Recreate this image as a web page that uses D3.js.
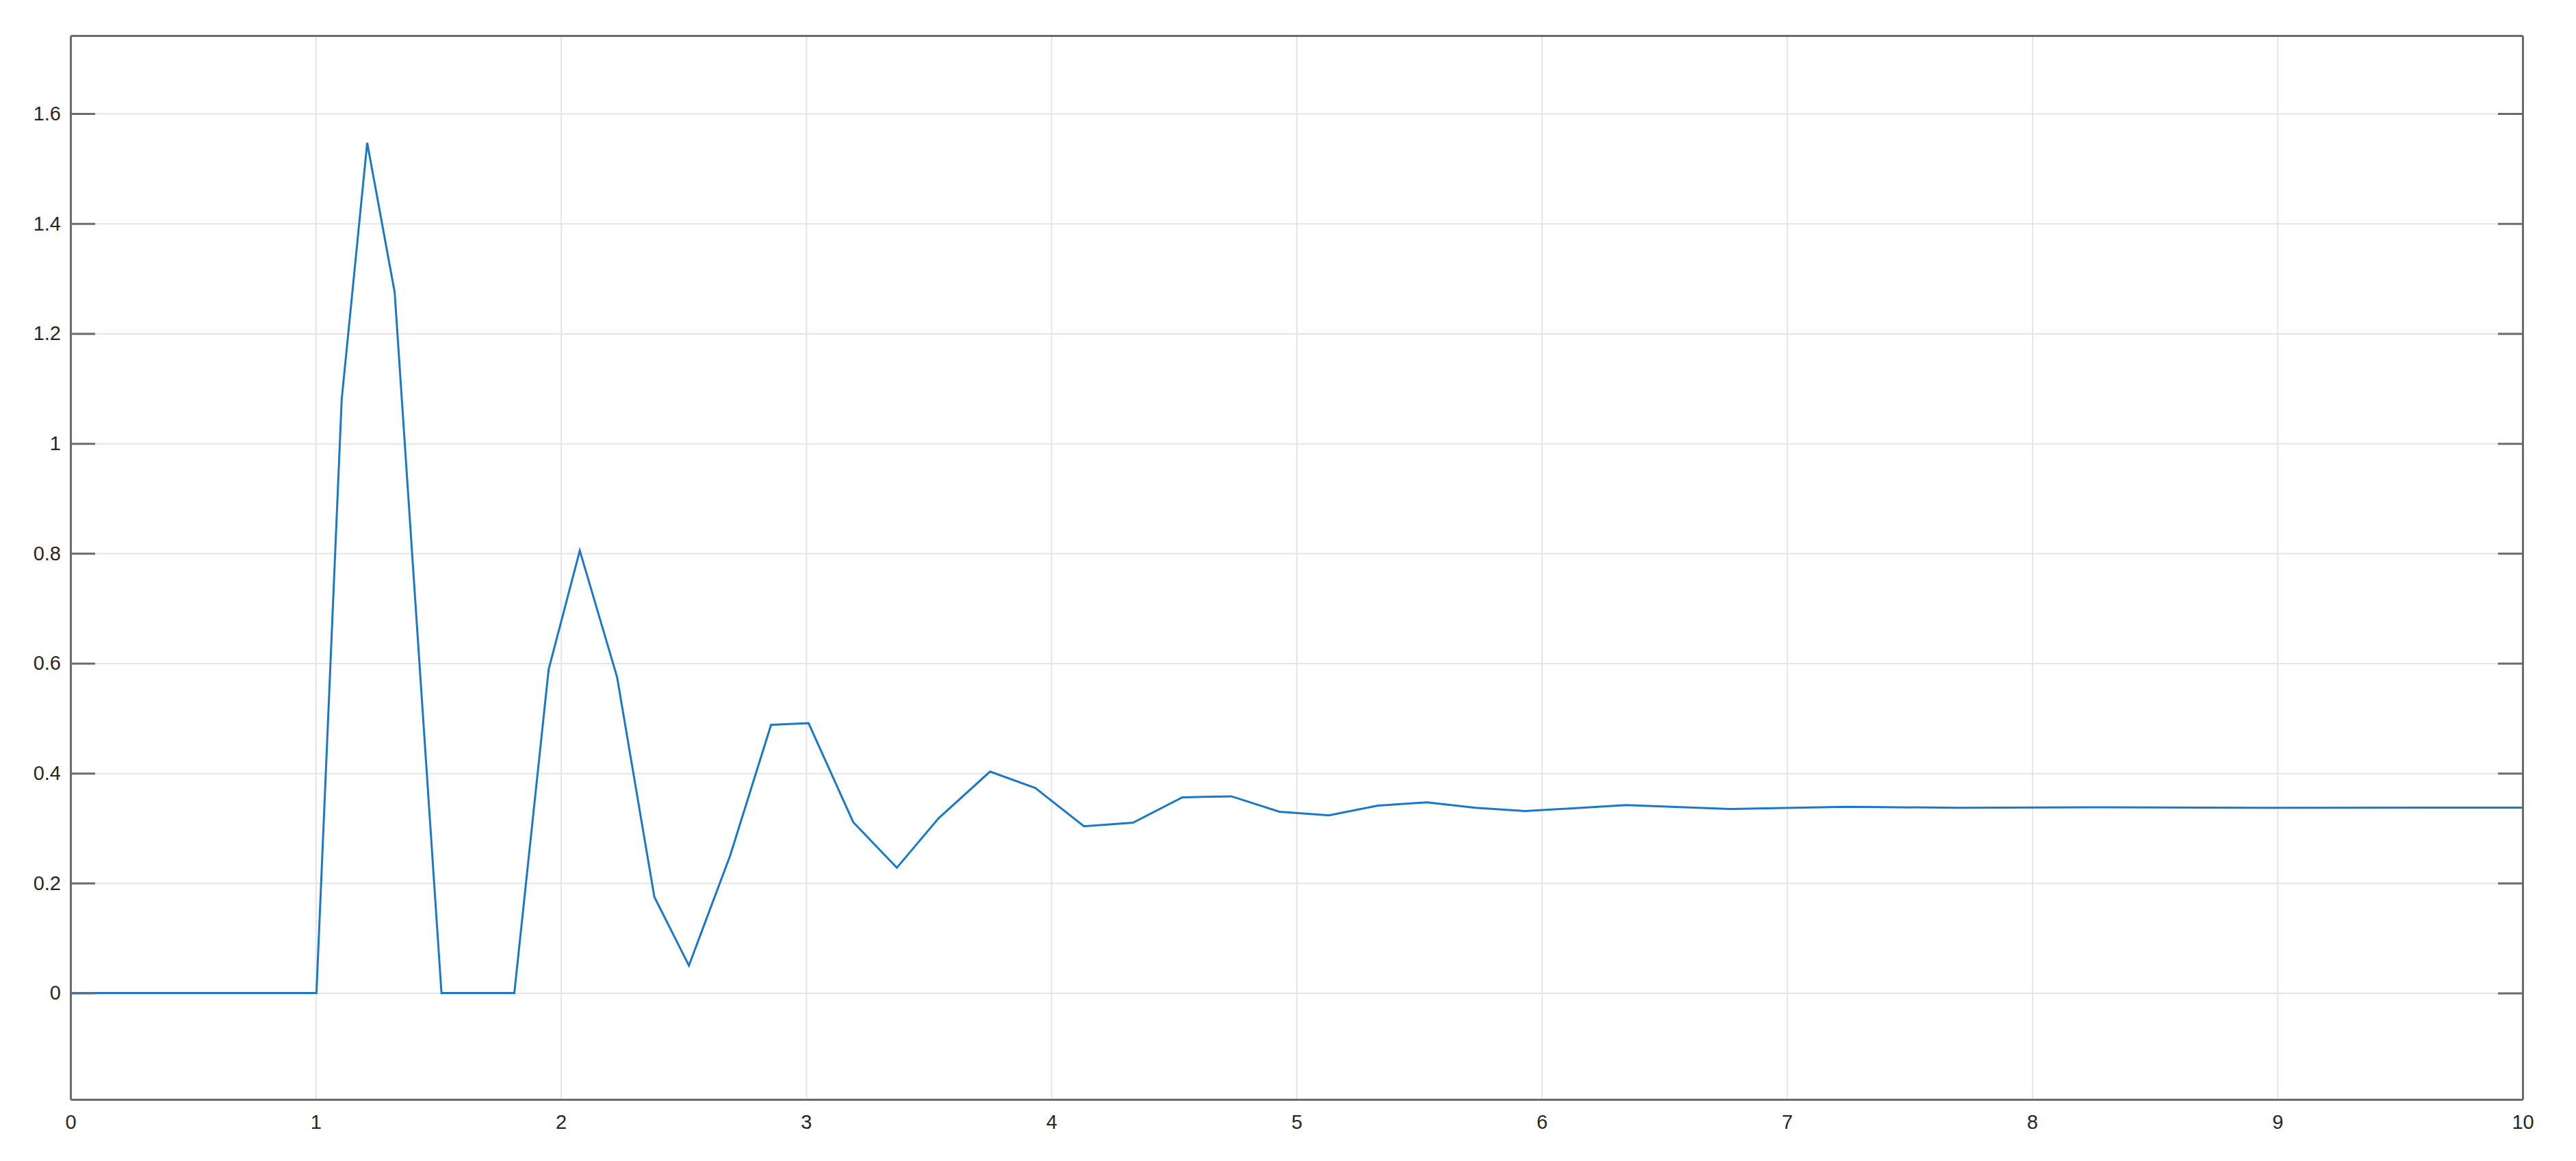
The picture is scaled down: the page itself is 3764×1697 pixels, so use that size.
<!DOCTYPE html>
<html>
<head>
<meta charset="utf-8">
<script src="https://cdn.jsdelivr.net/npm/d3@7"></script>
<style>
  body { margin: 0; background: #ffffff; }
  .tickText { font-family: "Liberation Sans", Arial, sans-serif; font-size: 29px; fill: #262626; }
</style>
</head>
<body>
<div class="chart"></div>
<script>
// time samples and response values
var timeValues = [0, 1.003, 1.106, 1.21, 1.322, 1.513, 1.81, 1.95, 2.077, 2.229, 2.381, 2.522, 2.69, 2.857, 3.01,
    3.192, 3.37, 3.54, 3.75, 3.935, 4.133, 4.333, 4.534, 4.734, 4.93, 5.132, 5.332, 5.531, 5.731, 5.932, 6.344,
    6.768, 7.248, 7.7, 8.3, 9.0, 10];
var responseValues = [0, 0, 1.08, 1.547, 1.275, 0, 0, 0.589, 0.805, 0.575, 0.175, 0.05, 0.25, 0.488, 0.491,
    0.311, 0.228, 0.318, 0.403, 0.373, 0.3035, 0.31, 0.356, 0.358, 0.33, 0.3235, 0.341, 0.347, 0.337, 0.331, 0.342,
    0.335, 0.339, 0.337, 0.338, 0.337, 0.3375];

var xTicks = [0, 1, 2, 3, 4, 5, 6, 7, 8, 9, 10];
var yTicks = [0, 0.2, 0.4, 0.6, 0.8, 1, 1.2, 1.4, 1.6];
var yTickLabels = ["0", "0.2", "0.4", "0.6", "0.8", "1", "1.2", "1.4", "1.6"];
var xDomain = [0, 10];
var yDomain = [-0.1935, 1.742];

var svgWidth = 3764;
var svgHeight = 1697;

var margin = { top: 52, bottom: 90, right: 78, left: 103 };

var width = svgWidth - margin.left - margin.right;
var height = svgHeight - margin.top - margin.bottom;

var svg = d3.select(".chart")
    .append("svg")
    .attr("width", svgWidth)
    .attr("height", svgHeight);

var chartGroup = svg.append("g")
    .attr("transform", `translate(${margin.left}, ${margin.top})`);

// scales
var xScale = d3.scaleLinear().domain(xDomain).range([0, width]);
var yScale = d3.scaleLinear().domain(yDomain).range([height, 0]);

// grid
var gridColor = "#e5e5e5";
chartGroup.append("g")
    .attr("class", "gridX")
    .attr("transform", `translate(0,${height})`)
    .call(d3.axisBottom(xScale).tickValues(xTicks.slice(1, -1)).tickSize(-height).tickFormat(""))
    .call(g => g.select(".domain").remove())
    .call(g => g.selectAll("line").attr("stroke", gridColor).attr("stroke-width", 2));

chartGroup.append("g")
    .attr("class", "gridY")
    .call(d3.axisLeft(yScale).tickValues(yTicks).tickSize(-width).tickFormat(""))
    .call(g => g.select(".domain").remove())
    .call(g => g.selectAll("line").attr("stroke", gridColor).attr("stroke-width", 2));

// response line
var line = d3.line()
    .x((d, i) => xScale(timeValues[i]))
    .y(d => yScale(d));

chartGroup.append("path")
    .datum(responseValues)
    .attr("d", line)
    .attr("fill", "none")
    .attr("stroke", "#1a78c9")
    .attr("stroke-width", 3)
    .attr("stroke-linejoin", "miter");

// axes: x has labels only, y ticks point inward on both sides
var axisColor = "#6b6b6b";
var tickLen = 36;

function styleAxis(g) {
    g.select(".domain").attr("stroke", axisColor).attr("stroke-width", 3);
    g.selectAll(".tick line").attr("stroke", axisColor).attr("stroke-width", 3);
    g.selectAll(".tick text").attr("class", "tickText").attr("fill", null).attr("font-size", null).attr("font-family", null);
}

chartGroup.append("g")
    .attr("class", "axisX")
    .attr("transform", `translate(0,${height})`)
    .call(d3.axisBottom(xScale).tickValues(xTicks).tickSizeInner(0).tickSizeOuter(0).tickPadding(22).tickFormat(d3.format("d")))
    .call(styleAxis);

chartGroup.append("g")
    .attr("class", "axisXTop")
    .call(d3.axisTop(xScale).tickValues([]).tickSizeOuter(0))
    .call(styleAxis);

chartGroup.append("g")
    .attr("class", "axisY")
    .call(d3.axisLeft(yScale).tickValues(yTicks).tickSizeInner(-tickLen).tickSizeOuter(0).tickPadding(14)
        .tickFormat((d, i) => yTickLabels[i]))
    .call(styleAxis);

chartGroup.append("g")
    .attr("class", "axisYRight")
    .attr("transform", `translate(${width},0)`)
    .call(d3.axisRight(yScale).tickValues(yTicks).tickSizeInner(-tickLen).tickSizeOuter(0).tickFormat(""))
    .call(styleAxis);
</script>
</body>
</html>
